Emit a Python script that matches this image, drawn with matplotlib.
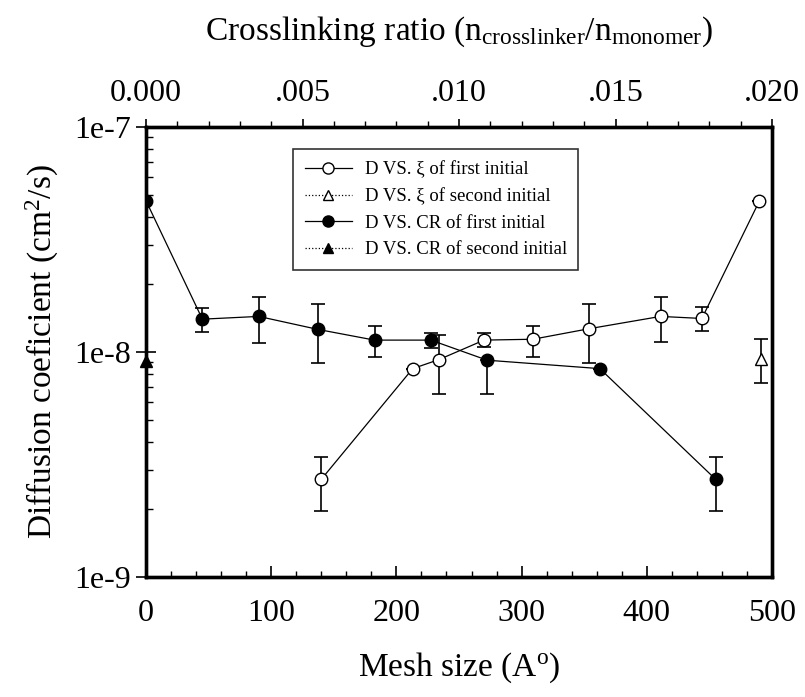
import numpy as np
import matplotlib.pyplot as plt
from matplotlib.ticker import LogLocator, FixedLocator, MultipleLocator, NullFormatter
from matplotlib.lines import Line2D

plt.rcParams['font.family'] = ['Liberation Serif', 'DejaVu Serif']
plt.rcParams['mathtext.fontset'] = 'custom'
plt.rcParams['mathtext.rm'] = 'Liberation Serif'
plt.rcParams['mathtext.it'] = 'Liberation Serif:italic'

# D vs crosslinking ratio (first initial), top axis
cr = [0.0, 0.0018, 0.0036, 0.0055, 0.0073, 0.0091, 0.0109, 0.0145, 0.0182]
d_cr = [4.7e-8, 1.40e-8, 1.44e-8, 1.26e-8, 1.13e-8, 1.13e-8, 9.2e-9, 8.44e-9, 2.72e-9]
cr_hi = [4.7e-8, 1.57e-8, 1.75e-8, 1.63e-8, 1.31e-8, 1.22e-8, 9.2e-9, 8.44e-9, 3.42e-9]
cr_lo = [4.7e-8, 1.23e-8, 1.10e-8, 8.97e-9, 9.5e-9, 1.04e-8, 6.52e-9, 8.44e-9, 1.97e-9]

# D vs mesh size (first initial), bottom axis
mesh = [140, 213, 234, 270, 309, 354, 411, 444, 490]
d_mesh = [2.72e-9, 8.44e-9, 9.26e-9, 1.13e-8, 1.14e-8, 1.27e-8, 1.44e-8, 1.41e-8, 4.7e-8]
mesh_hi = [3.42e-9, 8.44e-9, 1.19e-8, 1.22e-8, 1.31e-8, 1.63e-8, 1.75e-8, 1.58e-8, 4.7e-8]
mesh_lo = [1.97e-9, 8.44e-9, 6.52e-9, 1.05e-8, 9.54e-9, 8.97e-9, 1.11e-8, 1.24e-8, 4.7e-8]

# second initial
cr2 = [0.0]
d_cr2 = [9.16e-9]
mesh2 = [491]
d_mesh2 = [9.35e-9]
mesh2_hi = [1.14e-8]
mesh2_lo = [7.3e-9]

labels = ["D VS. \u03be of first initial", "D VS. \u03be of second initial",
          "D VS. CR of first initial", "D VS. CR of second initial"]

fig = plt.figure(figsize=(8.05, 6.97), dpi=100)
ax = fig.add_axes([0.1814, 0.172, 0.7776, 0.6458])
ax2 = ax.twiny()

def yerr(v, lo, hi):
    v = np.array(v)
    return [v - np.array(lo), np.array(hi) - v]

eb = dict(color='black', ms=9, lw=0.9, elinewidth=1.2, capsize=5, capthick=1.2)
ax.errorbar(mesh, d_mesh, yerr=yerr(d_mesh, mesh_lo, mesh_hi), fmt='o-',
            mfc='white', mec='black', **eb)
ax.errorbar(mesh2, d_mesh2, yerr=yerr(d_mesh2, mesh2_lo, mesh2_hi), fmt='^',
            mfc='white', mec='black', **{**eb, 'ms': 8})
ax2.errorbar(cr, d_cr, yerr=yerr(d_cr, cr_lo, cr_hi), fmt='o-', mfc='black', **eb)
ax2.plot(cr2, d_cr2, '^', color='black', ms=8, clip_on=False)

ax.set_yscale('log')
ax.set_ylim(1e-9, 1e-7)
ax.set_xlim(0, 500)
ax2.set_xlim(0, 0.020)

ax.yaxis.set_major_locator(FixedLocator([1e-9, 1e-8, 1e-7]))
ax.set_yticklabels(['1e-9', '1e-8', '1e-7'])
ax.yaxis.set_minor_locator(LogLocator(base=10, subs=np.arange(2, 10)))
ax.yaxis.set_minor_formatter(NullFormatter())
ax.xaxis.set_major_locator(MultipleLocator(100))
ax.xaxis.set_minor_locator(MultipleLocator(20))
ax2.xaxis.set_minor_locator(MultipleLocator(0.001))
ax2.set_xticks([0, 0.005, 0.010, 0.015, 0.020])
ax2.set_xticklabels(['0.000', '.005', '.010', '.015', '.020'])

ax.tick_params(axis='x', which='major', direction='in', length=8, width=1.2, labelsize=23, pad=16)
ax.tick_params(axis='x', which='minor', direction='in', length=4, width=1)
ax.tick_params(axis='y', which='major', direction='inout', length=14, width=1.2, labelsize=23, pad=4)
ax.tick_params(axis='y', which='minor', direction='in', length=5, width=1)
ax2.tick_params(axis='x', which='major', direction='out', length=6, width=1.2, labelsize=23, pad=8)
ax2.tick_params(axis='x', which='minor', direction='out', length=4, width=1)

for a in (ax, ax2):
    for s in a.spines.values():
        s.set_linewidth(2.4)

ax.set_xlabel('Mesh size (A$^{\\rm o}$)', fontsize=24, labelpad=16)
ax.set_ylabel('Diffusion coeficient (cm$^{2}$/s)', fontsize=24, labelpad=9)
ax2.set_xlabel('Crosslinking ratio (n$_{\\rm crosslinker}$/n$_{\\rm monomer}$)', fontsize=24, labelpad=28)

handles = [
    Line2D([], [], color='black', lw=0.9, marker='o', mfc='white', ms=8),
    Line2D([], [], color='black', lw=0.9, ls=':', marker='^', mfc='white', ms=7),
    Line2D([], [], color='black', lw=0.9, marker='o', mfc='black', ms=8),
    Line2D([], [], color='black', lw=0.9, ls=':', marker='^', mfc='black', ms=7),
]
leg = ax.legend(handles, labels, loc='upper left', bbox_to_anchor=(0.2205, 0.971),
                fontsize=13.5, frameon=True, fancybox=False, edgecolor='black',
                handlelength=2.5, handletextpad=0.7, borderpad=0.6, labelspacing=0.5)
leg.get_frame().set_linewidth(1.2)

fig.savefig('out.png', dpi=100)
